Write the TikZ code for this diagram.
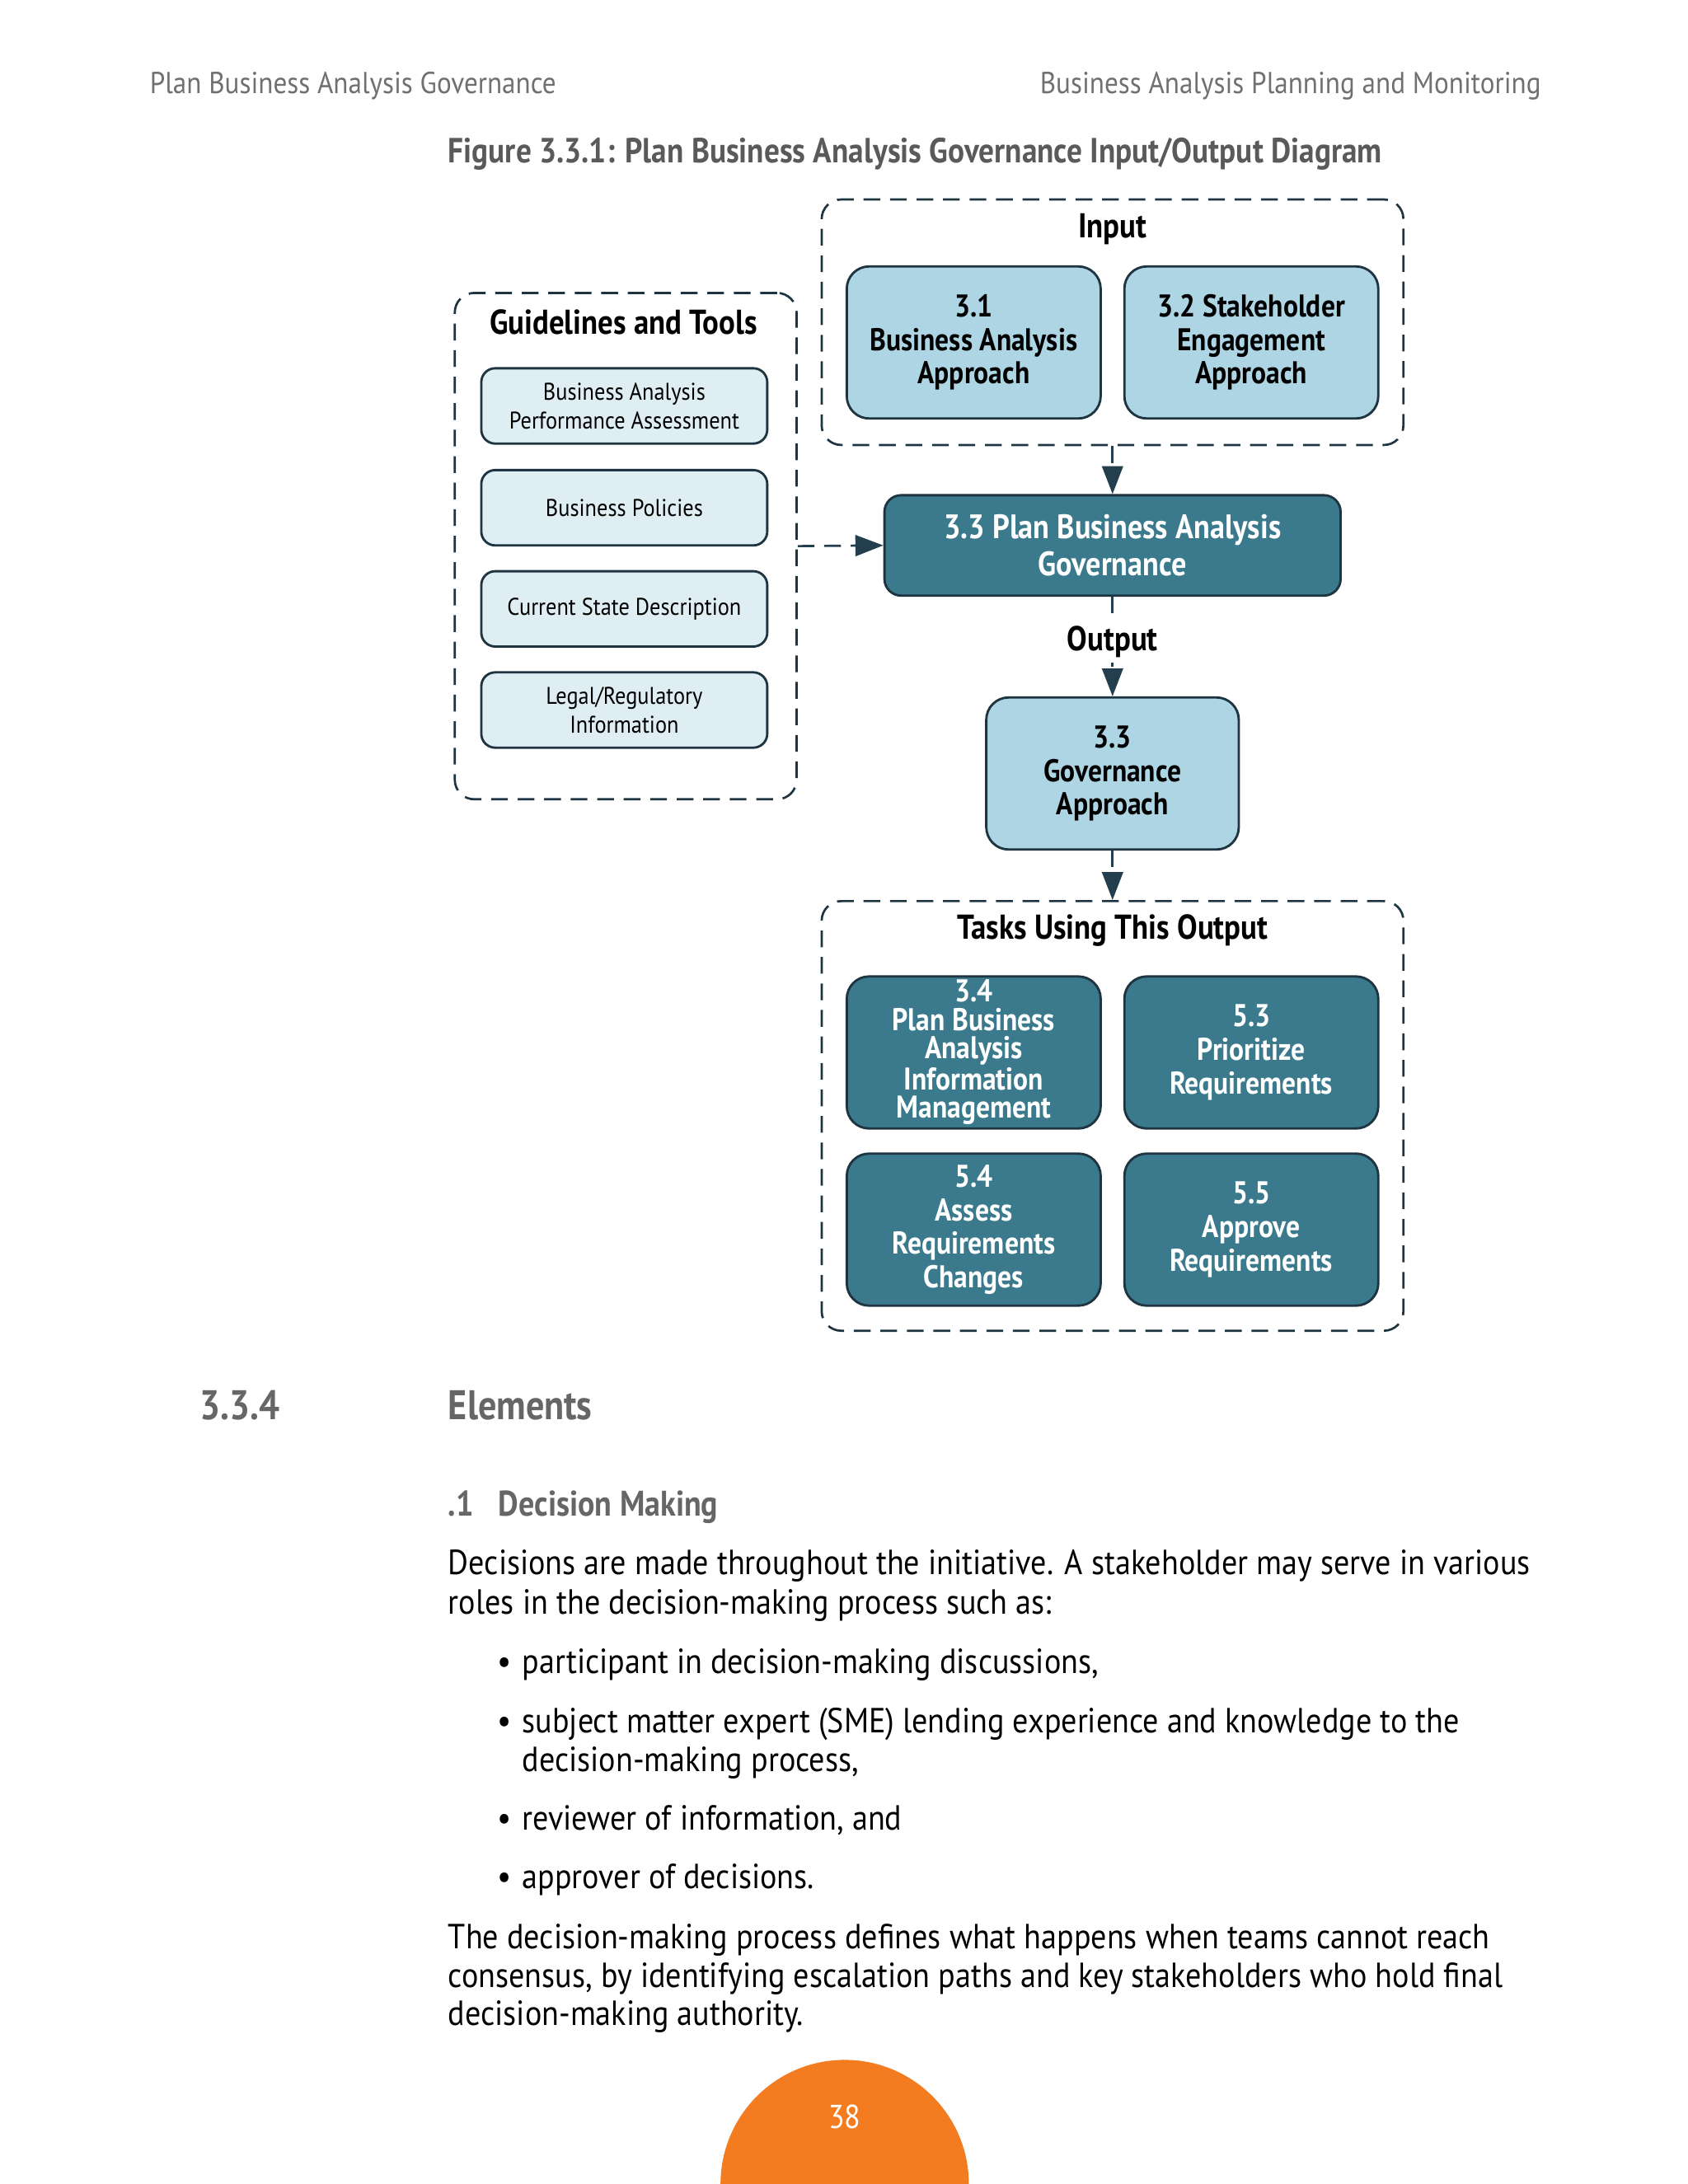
\documentclass[tikz,border=0pt]{standalone}
\usepackage{fontspec}
\setmainfont{PT Sans}
\newfontfamily\condreg[FakeStretch=0.9]{PT Sans}
\newfontfamily\condbold[FakeStretch=0.88,UprightFont={* Bold}]{PT Sans}
\usetikzlibrary{arrows.meta}
\definecolor{teal}{HTML}{3A7A8C}
\definecolor{lblue}{HTML}{ADD5E3}
\definecolor{pblue}{HTML}{DFEEF3}
\definecolor{bord}{HTML}{1F3441}
\definecolor{arr}{HTML}{233F4E}
\definecolor{hgray}{HTML}{707070}
\definecolor{tgray}{HTML}{5A5A5A}
\definecolor{sgray}{HTML}{666666}
\definecolor{orng}{HTML}{F37B20}
\def\u{0.5058pt}
\tikzset{
  grp/.style={draw=bord, line width=0.8pt, dash pattern=on 12*\u off 7*\u, rounded corners=14*\u, inner sep=0pt},
  bx/.style={draw=bord, line width=0.85pt, rounded corners=16*\u, inner sep=0pt, align=center, minimum width=182*\u, minimum height=109*\u},
  lbx/.style={bx, fill=lblue, text=black, font=\condbold\fontsize{11.4}{12.14}\selectfont},
  tbx/.style={bx, fill=teal, text=white, font=\condbold\fontsize{11.4}{12.14}\selectfont},
  sbx/.style={draw=bord, line width=0.85pt, rounded corners=10*\u, inner sep=0pt, align=center, fill=pblue, minimum width=205*\u, minimum height=54*\u, font=\condreg\fontsize{8.75}{10.6}\selectfont},
  glabel/.style={font=\condbold\fontsize{12.5}{14}\selectfont, text=black, inner sep=1pt},
  conn/.style={draw=arr, line width=0.8pt, dash pattern=on 12*\u off 7*\u, -{Triangle[length=20*\u, width=15*\u]}},
  body/.style={font=\condreg\fontsize{12.65}{14}\selectfont, anchor=mid west, inner sep=0pt, text=black},
}
\begin{document}
\begin{tikzpicture}[x=\u, y=-\u]
\useasboundingbox (0,0) rectangle (1210,1565.7);
\fill[white] (0,0) rectangle (1210,1565.7);
% header
\node[anchor=mid west, inner sep=0pt, text=hgray, font=\condreg\fontsize{11}{13}\selectfont] (hl) at (107,62) {Plan Business Analysis Governance};
\node[anchor=mid east, inner sep=0pt, text=hgray, font=\condreg\fontsize{11}{13}\selectfont] (hr) at (1105,62) {Business Analysis Planning and Monitoring};
\node[anchor=mid west, inner sep=0pt, text=tgray, font=\condbold\fontsize{12.65}{15}\selectfont] (title) at (321,112) {Figure 3.3.1: Plan Business Analysis Governance Input/Output Diagram};
% groups
\node[grp, minimum width=245*\u, minimum height=363*\u] (guide) at (448.5,391.5) {};
\node[grp, minimum width=417*\u, minimum height=176*\u] (input) at (797.5,231) {};
\node[grp, minimum width=417*\u, minimum height=308*\u] (tasks) at (797.5,800) {};
\node[glabel] (guidelbl) at (447,231) {Guidelines and Tools};
\node[glabel] (inputlbl) at (797.5,164) {Input};
\node[glabel] (taskslbl) at (797.5,667) {Tasks Using This Output};
% guideline boxes
\node[sbx] (g1) at (447.5,291) {Business Analysis\\Performance Assessment};
\node[sbx] (g2) at (447.5,364) {Business Policies};
\node[sbx] (g3) at (447.5,436.5) {Current State Description};
\node[sbx] (g4) at (447.5,509) {Legal/Regulatory\\Information};
% inputs
\node[lbx] (i31) at (698,245.5) {3.1\\Business Analysis\\Approach};
\node[lbx] (i32) at (897,245.5) {3.2 Stakeholder\\Engagement\\Approach};
% main
\node[tbx, minimum width=327*\u, minimum height=72*\u, rounded corners=12*\u, font=\condbold\fontsize{12.3}{13.66}\selectfont] (main) at (797.5,391) {3.3 Plan Business Analysis\\Governance};
% output
\node[lbx, minimum width=181*\u] (gov) at (797.5,554.5) {3.3\\Governance\\Approach};
% tasks
\node[tbx, font=\condbold\fontsize{11.4}{10.24}\selectfont] (t34) at (698,754.5) {3.4\\Plan Business\\Analysis\\Information\\Management};
\node[tbx] (t53) at (897,754.5) {5.3\\Prioritize\\Requirements};
\node[tbx] (t54) at (698,881.5) {5.4\\Assess\\Requirements\\Changes};
\node[tbx] (t55) at (897,881.5) {5.5\\Approve\\Requirements};
% connectors
\draw[conn] (input.south) -- (main.north);
\draw[conn] (guide.east) -- (main.west);
\draw[conn] (main.south) -- node[fill=white, inner sep=2pt, font=\condbold\fontsize{12.5}{14}\selectfont, text=black, pos=0.45] (outlbl) {Output} (gov.north);
\draw[conn] (gov.south) -- (tasks.north);
% section
\node[anchor=mid west, inner sep=0pt, text=sgray, font=\condbold\fontsize{15}{18}\selectfont] (secnum) at (143,1013) {3.3.4};
\node[anchor=mid west, inner sep=0pt, text=sgray, font=\condbold\fontsize{15}{18}\selectfont] (sectitle) at (321,1013) {Elements};
\node[anchor=mid west, inner sep=0pt, text=sgray, font=\condbold\fontsize{12.9}{15}\selectfont] (subnum) at (321,1082) {.1};
\node[anchor=mid west, inner sep=0pt, text=sgray, font=\condbold\fontsize{12.9}{15}\selectfont] (subtitle) at (357,1082) {Decision Making};
\node[body] (p1) at (321,1124) {Decisions are made throughout the initiative. A stakeholder may serve in various};
\node[body] (p2) at (321,1152) {roles in the decision-making process such as:};
\node[body] (b1d) at (356,1195) {\textbullet};
\node[body] (b1) at (374,1195) {participant in decision-making discussions,};
\node[body] (b2d) at (356,1237) {\textbullet};
\node[body] (b2) at (374,1237) {subject matter expert (SME) lending experience and knowledge to the};
\node[body] (b2b) at (374,1265) {decision-making process,};
\node[body] (b3d) at (356,1307) {\textbullet};
\node[body] (b3) at (374,1307) {reviewer of information, and};
\node[body] (b4d) at (356,1349) {\textbullet};
\node[body] (b4) at (374,1349) {approver of decisions.};
\node[body] (q1) at (321,1392) {The decision-making process defines what happens when teams cannot reach};
\node[body] (q2) at (321,1420) {consensus, by identifying escalation paths and key stakeholders who hold final};
\node[body] (q3) at (321,1447) {decision-making authority.};
% page number
\fill[orng] (516.5,1565.7) arc[start angle=180, end angle=360, radius=89] -- cycle;
\node[text=white, font=\condreg\fontsize{12}{14}\selectfont, inner sep=0pt, anchor=mid] (pnum) at (605.5,1521) {38};
\end{tikzpicture}
\end{document}
